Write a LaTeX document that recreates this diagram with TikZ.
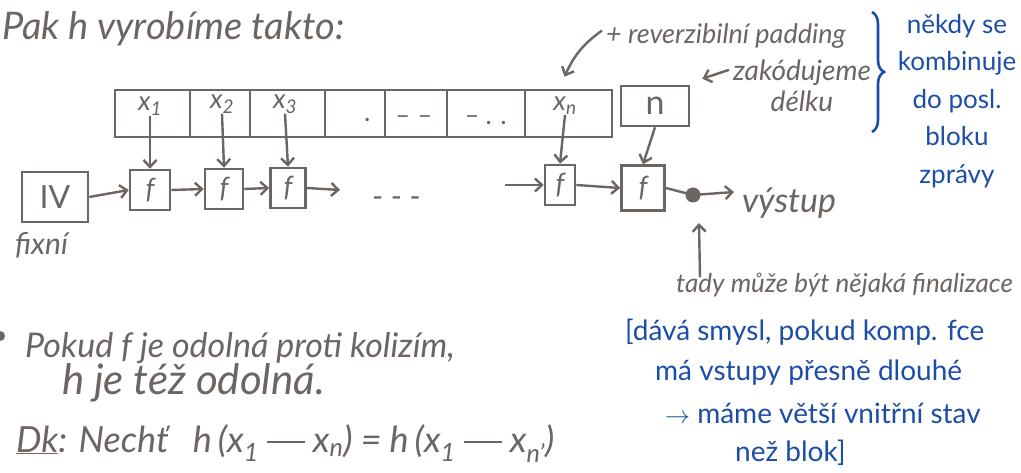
\documentclass[tikz,border=0pt]{standalone}
\usepackage{fontspec}
\setmainfont{Lato}
\usetikzlibrary{arrows.meta,calc,decorations.pathreplacing}
\definecolor{ink}{RGB}{108,101,98}
\definecolor{pen}{RGB}{28,78,168}
\newcommand{\longdash}{\hspace{8pt}\rule[9pt]{38pt}{2.4pt}\hspace{8pt}}
\begin{document}
\begin{tikzpicture}[x=1pt,y=-1pt,
  every node/.style={inner sep=0pt, text=ink},
  cell/.style={draw=ink, line width=2.6pt, minimum height=47pt},
  fbox/.style={draw=ink, line width=2.6pt, minimum height=40pt,
    font=\itshape\fontsize{28}{28}\selectfont},
  arr/.style={draw=ink, line width=2.4pt, -{Straight Barb[length=7pt,width=13pt,line width=2.4pt]}},
  plain/.style={draw=ink, line width=2.4pt},
  gtext/.style={anchor=base west, text=ink, font=\itshape\fontsize{#1}{#1}\selectfont},
  btext/.style={anchor=base west, text=pen, font=\fontsize{#1}{#1}\selectfont},
  xlab/.style={font=\itshape\fontsize{27}{27}\selectfont}
]
\useasboundingbox (0,0) rectangle (1021,473);
\fill[white] (0,0) rectangle (1021,473);

% heading
\node[gtext=38] (head) at (2,40) {Pak h vyrobíme takto:};

% the message split into blocks
\node[cell, minimum width=75pt] (c1) at (152.5,113.5) {};
\node[cell, minimum width=60pt] (c2) at (220,113.5) {};
\node[cell, minimum width=75pt] (c3) at (287.5,113.5) {};
\node[cell, minimum width=60pt] (c4) at (355,113.5) {};
\node[cell, minimum width=62pt] (c5) at (416,113.5) {};
\node[cell, minimum width=78pt] (c6) at (486,113.5) {};
\node[cell, minimum width=87pt] (c7) at (568.5,113.5) {};
\node[xlab] (x1) at (150,106) {x\textsubscript{1}};
\node[xlab] (x2) at (222,104) {x\textsubscript{2}};
\node[xlab] (x3) at (285,104) {x\textsubscript{3}};
\node[xlab] (xn) at (565,106) {x\textsubscript{n}};
\node[xlab] (d4) at (368,120) {.};
\node[xlab] (d5) at (414,120) {– –};
\node[xlab] (d6) at (486,120) {– . .};

% length block
\node[cell, minimum width=68pt, minimum height=40pt, font=\fontsize{34}{34}\selectfont] (nb) at (655,106) {n};

% compression chain
\node[cell, minimum width=66pt, minimum height=50pt, font=\fontsize{32}{32}\selectfont] (iv) at (55,197) {IV};
\node[gtext=30] (fix) at (15,255) {fixní};
\node[fbox, minimum width=40pt] (f1) at (150,190) {f};
\node[fbox, minimum width=38pt] (f2) at (224,189) {f};
\node[fbox, minimum width=35pt] (f3) at (288,188) {f};
\node[fbox, minimum width=30pt] (fn) at (560,185) {f};
\node[fbox, minimum width=43pt, minimum height=45pt] (fl) at (643,188) {f};
\node[gtext=32] (gap) at (372,208) {- - -};
\coordinate (o3) at (340,190);
\coordinate (in) at (505,185);
\fill[ink] (693,195) circle (7.5pt);
\coordinate (dot) at (693,195);
\coordinate (outc) at (734,192);
\node[gtext=34] (out) at (742,213) {výstup};

\draw[arr] (iv.east) -- (f1.west);
\draw[arr] (f1.east) -- (f2.west);
\draw[arr] (f2.east) -- (f3.west);
\draw[arr] (f3.east) -- (o3);
\draw[arr] (in) -- (fn.west);
\draw[arr] (fn.east) -- (fl.west);
\draw[plain] (fl.east) -- (dot);
\draw[arr] (dot) -- (outc);

\draw[arr] (x1.south) -- (f1.north);
\draw[arr] (x2.south) -- (f2.north);
\draw[arr] (x3.south) -- (f3.north);
\draw[arr] (xn.south) -- (fn.north);
\draw[arr] (nb.south) -- (fl.north);

% annotations
\node[gtext=27] (pad) at (606,44) {+ reverzibilní padding};
\draw[arr] ($(pad.west)+(-4,-6)$) to[bend right=15] ($(c7.north)+(-4,-12)$);
\node[text=ink, font=\itshape\fontsize{28}{31}\selectfont, align=center] (zak) at (802,86) {zakódujeme\\délku};
\draw[arr] ($(zak.north west)+(-4,10)$) -- ($(nb.north east)+(12,-6)$);

\node[gtext=26] (tady) at (676,293) {tady může být nějaká finalizace};
\draw[arr] ($(tady.north west)+(24,4)$) -- ($(dot)+(6,28)$);

% blue remarks
\draw[pen, line width=2.6pt, decorate, decoration={brace, amplitude=12pt}] (872,12) -- (872,132);
\node[text=pen, font=\fontsize{26}{37.5}\selectfont, align=center, anchor=north] (rem) at (957,14) {někdy se\\kombinuje\\do posl.\\bloku\\zprávy};

\node[btext=28] (b1) at (625,341) {[dává smysl, pokud komp. fce};
\node[btext=28] (b2) at (655,380) {má vstupy přesně dlouhé};
\node[btext=28] (b3) at (665,423) {$\rightarrow$ máme větší vnitřní stav};
\node[btext=28] (b4) at (735,461) {než blok]};

% claim and proof
\fill[ink] (0,336) circle (5pt);
\node[gtext=34] (p1) at (25,358) {Pokud f je odolná proti kolizím,};
\node[gtext=42] (p2) at (62,395) {h je též odolná.};
\node[gtext=36] (p3) at (16,452) {\underline{Dk}: Nechť\hspace{24pt}h\,(x\textsubscript{1}\longdash x\textsubscript{n})\hspace{8pt}=\hspace{8pt}h\,(x\textsubscript{1}\longdash x\textsubscript{n'})};
\end{tikzpicture}
\end{document}
